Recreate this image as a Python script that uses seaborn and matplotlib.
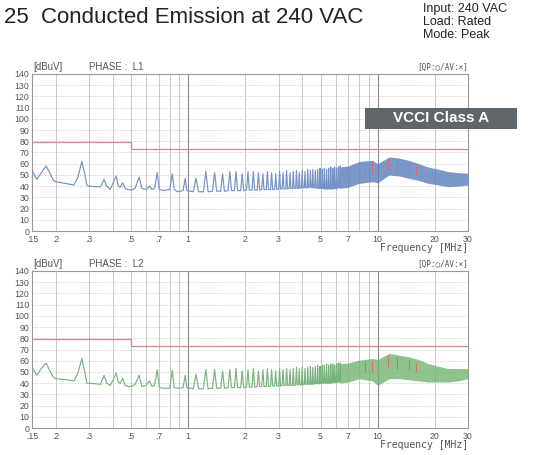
import matplotlib
matplotlib.use("Agg")
import matplotlib.pyplot as plt
from matplotlib.patches import Rectangle
import pandas as pd
import seaborn as sns

# ---- data (MHz / dBuV) ----
# low band trace vertices, 0.15 - 1 MHz
low_mhz = [0.150, 0.159, 0.168, 0.178, 0.186, 0.195, 0.200, 0.215, 0.230, 0.250,
           0.262, 0.275, 0.284, 0.292, 0.300, 0.320, 0.345, 0.360, 0.372, 0.388,
           0.405, 0.417, 0.428, 0.438, 0.452, 0.465, 0.480, 0.500, 0.525, 0.552,
           0.570, 0.600, 0.625, 0.645, 0.665, 0.687, 0.705, 0.740, 0.800, 0.825,
           0.845, 0.880, 0.940, 0.966, 0.985]
l1_low = [54, 46, 52, 58, 52, 45, 44, 43, 42, 41,
          48, 62, 52, 41, 40, 39.5, 39.5, 46, 40, 37,
          44, 49, 40, 39, 43, 38, 37, 36.5, 38, 48,
          38, 37, 40, 37, 38, 52, 37, 36, 37, 51,
          37, 35, 36, 47, 36]
l2_low = [54.5, 47, 53, 58, 51, 45, 44, 43.5, 43, 42,
          49, 62, 51, 40, 40, 39.5, 39, 47, 40, 38,
          44, 49, 41, 40, 44.5, 38, 37, 37, 39, 47,
          37, 38, 42, 37, 38, 52, 36, 35.5, 35.5, 51.5,
          36, 35.5, 36, 47, 36]

# harmonic comb, 1 - 6.4 MHz
comb_mhz = [1.10, 1.24, 1.38, 1.52, 1.66, 1.79, 1.93, 2.07, 2.21, 2.35,
            2.48, 2.62, 2.76, 2.90, 3.04, 3.17, 3.31, 3.45, 3.59, 3.73,
            3.86, 4.00, 4.14, 4.28, 4.42, 4.55, 4.69, 4.83, 4.97, 5.11,
            5.24, 5.38, 5.52, 5.66, 5.80, 5.93, 6.07, 6.21, 6.35]
l1_comb_top = [47, 53, 52, 51, 53, 53, 51, 53, 53, 52,
               51, 53, 52, 51, 53, 52, 54, 52, 53, 54,
               52, 54, 53, 55, 54, 55, 54, 55, 56, 55,
               56, 55, 56, 57, 56, 57, 56, 57, 58]
l1_comb_floor = [35, 35, 35.5, 35.5, 36, 36, 36, 36.5, 36.5, 36.5,
                 37, 37, 37, 37, 37.5, 37.5, 37.5, 38, 38, 38,
                 38, 38.5, 38.5, 38.5, 39, 38.5, 38.5, 38, 38, 38,
                 37.5, 37.5, 37.5, 37.5, 37.5, 38, 38, 38.5, 39]
l2_comb_top = [48, 52, 52, 51, 52, 53, 51, 52, 53, 51,
               52, 53, 52, 51, 53, 52, 53, 52, 53, 54,
               53, 54, 53, 54, 55, 54, 55, 56, 55, 56,
               56, 57, 56, 57, 57, 56, 57, 58, 58]
l2_comb_floor = [35, 35, 35.5, 35.5, 36, 36, 36, 36.5, 36.5, 37,
                 37, 37, 37.5, 37.5, 37.5, 38, 38, 38, 38, 38.5,
                 38.5, 38.5, 39, 39, 39, 39, 39.5, 39.5, 39.5, 40,
                 40, 40, 40, 40, 40.5, 40.5, 40.5, 41, 41]

# dense band envelope, 6.3 - 30 MHz
band_mhz = [6.3, 7.0, 8.0, 9.4, 10.0, 11.5, 13.0, 14.6,
            16.5, 18.5, 21.0, 23.6, 26.5, 30.0]
l1_band_hi = [57, 58, 62, 63, 60, 66, 65, 63, 60, 57, 55, 53, 52, 51.5]
l1_band_lo = [38, 39, 42.5, 44, 43, 50, 49, 47, 45, 42.5, 41, 39.5, 40, 41]
l2_band_hi = [57.5, 58, 60.5, 62, 61, 66.5, 65, 63.5, 61, 57.5, 55, 53, 53, 53]
l2_band_lo = [40, 41, 44, 42, 38, 44, 44, 43, 42, 41, 41, 41, 42, 44]

# QP readings (red marks inside the band)
qp_mhz = [8.6, 9.4, 11.4, 12.7, 14.6, 16.0]
l1_qp_lo = [52, 52, 55, 53, 52, 50]
l1_qp_hi = [61, 62, 64, 62, 61, 58]
l2_qp_lo = [50, 50, 54, 53, 52, 50]
l2_qp_hi = [59, 60, 64, 63, 61, 58]

# VCCI class A quasi-peak limit
limit_mhz = [0.15, 0.5, 0.5, 30]
limit_qp = [79, 79, 73, 73]

tick_mhz = [0.15, 0.2, 0.3, 0.5, 0.7, 1, 2, 3, 5, 7, 10, 20, 30]
tick_labels = [".15", ".2", ".3", ".5", ".7", "1", "2", "3", "5", "7", "10", "20", "30"]
grid_mhz = [0.2, 0.3, 0.4, 0.5, 0.6, 0.7, 0.8, 0.9, 2, 3, 4, 5, 6, 7, 8, 9, 20]

sns.set_style("white")
plt.rcParams["font.family"] = ["Liberation Sans", "DejaVu Sans"]

HALF_WIDTH = 0.035  # MHz, half base width of a comb spike


def build_trace(low, top, floor):
    xs = list(low_mhz)
    ys = list(low)
    for f, t, b in zip(comb_mhz, top, floor):
        xs += [f - HALF_WIDTH, f, f + HALF_WIDTH]
        ys += [b, t, b]
    return pd.DataFrame({"mhz": xs, "dbuv": ys})


def draw_panel(fig, rect, phase, low, top, floor, hi, lo, qlo, qhi, line_c, band_c):
    ax = fig.add_axes(rect)
    ax.set_xscale("log")
    ax.xaxis.remove_overlapping_locs = False

    ax.set_xticks(grid_mhz, minor=True)
    ax.grid(True, which="both", axis="x", color="#c9c9c9", lw=0.7)
    ax.grid(True, which="major", axis="y", color="#cfcfcf", lw=0.6, ls=(0, (1.5, 1.5)))
    for f in (1, 10):
        ax.axvline(f, color="#8c8c8c", lw=0.8, zorder=1)

    lim = pd.DataFrame({"mhz": limit_mhz, "dbuv": limit_qp})
    sns.lineplot(data=lim, x="mhz", y="dbuv", ax=ax, estimator=None, sort=False,
                 color="#dc8386", lw=0.9)

    ax.fill_between(band_mhz, lo, hi, color=band_c, lw=0, alpha=0.8, zorder=3)
    ax.vlines(qp_mhz, qlo, qhi, color="#d8696c", lw=0.7, zorder=4)

    tr = build_trace(low, top, floor)
    sns.lineplot(data=tr, x="mhz", y="dbuv", ax=ax, estimator=None, sort=False,
                 color=line_c, lw=0.85, zorder=3)

    ax.set_xlim(0.15, 30)
    ax.set_ylim(0, 140)
    ax.set_xticks(tick_mhz)
    ax.set_xticklabels(tick_labels)
    ax.set_yticks(range(0, 141, 10))
    ax.tick_params(axis="both", which="both", length=0, labelsize=6.3, colors="#555555")
    ax.tick_params(axis="x", pad=3)
    ax.tick_params(axis="y", pad=2)
    ax.set_xlabel("")
    ax.set_ylabel("")
    for s in ax.spines.values():
        s.set_color("#9a9a9a")
        s.set_linewidth(0.8)

    ax.text(0.003, 1.012, "[dBuV]", transform=ax.transAxes, fontsize=7,
            color="#555555", va="bottom", ha="left")
    ax.text(0.13, 1.012, f"PHASE :  {phase}", transform=ax.transAxes, fontsize=7,
            color="#555555", va="bottom", ha="left")
    ax.text(1.0, 1.012, "[QP:○/AV:×]", transform=ax.transAxes, fontsize=5.5,
            color="#555555", va="bottom", ha="right", family="DejaVu Sans Mono")
    ax.text(1.0, -0.075, "Frequency [MHz]", transform=ax.transAxes, fontsize=7,
            color="#555555", va="top", ha="right", family="DejaVu Sans Mono")
    return ax


fig = plt.figure(figsize=(5.34, 4.55), dpi=100)

draw_panel(fig, [0.0599, 0.4923, 0.8165, 0.3451], "L1",
           l1_low, l1_comb_top, l1_comb_floor, l1_band_hi, l1_band_lo,
           l1_qp_lo, l1_qp_hi, "#7592c4", "#5b7fbb")
draw_panel(fig, [0.0599, 0.0593, 0.8165, 0.3451], "L2",
           l2_low, l2_comb_top, l2_comb_floor, l2_band_hi, l2_band_lo,
           l2_qp_lo, l2_qp_hi, "#79b27d", "#72b46f")

fig.text(4 / 534, 1 - 7 / 455, "25  Conducted Emission at 240 VAC", fontsize=16,
         color="#222222", va="top", ha="left")
for i, line in enumerate(["Input: 240 VAC", "Load: Rated", "Mode: Peak"]):
    fig.text(423 / 534, 1 - (3 + 13 * i) / 455, line, fontsize=9,
             color="#222222", va="top", ha="left")

fig.patches.append(Rectangle((365 / 534, 1 - 129 / 455), 152 / 534, 21 / 455,
                             transform=fig.transFigure, fc="#5f6569", ec="none",
                             zorder=5))
fig.text(441 / 534, 1 - 118.5 / 455, "VCCI Class A", fontsize=11, color="white",
         weight="bold", ha="center", va="center", zorder=6)

fig.savefig("out.png", dpi=100)
